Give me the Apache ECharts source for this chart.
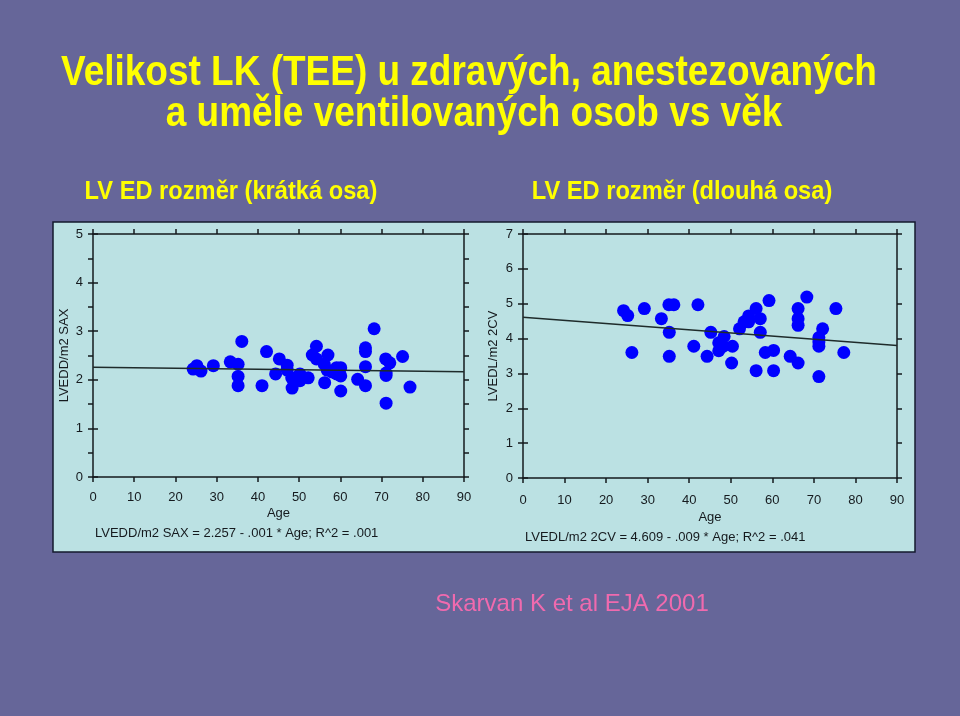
<!DOCTYPE html>
<html>
<head>
<meta charset="utf-8">
<script src="https://cdn.jsdelivr.net/npm/echarts@6/dist/echarts.min.js"></script>
<style>
  html, body { margin: 0; padding: 0; background: #666699; }
  #main { width: 960px; height: 716px; }
</style>
</head>
<body>
<div id="main"></div>
<script>
    // vek (x) a hodnoty
    var saxAge = [24.3, 25.2, 26.2, 29.2, 33.3, 35.2, 36.1, 35.2, 35.2, 41.0, 42.1, 44.3, 45.2, 47.1, 47.1,
        48.2, 48.3, 50.2, 50.2, 52.2, 53.2, 54.2, 54.2, 56.1, 57.0, 56.8, 56.2, 58.0, 59.1, 60.1,
        59.1, 60.1, 60.1, 64.2, 66.1, 66.1, 66.1, 66.1, 68.2, 71.0, 72.0, 71.1, 71.1, 71.1, 75.1, 76.9];
    var saxVal = [2.22, 2.29, 2.18, 2.29, 2.37, 2.32, 2.79, 2.07, 1.88, 1.88, 2.58, 2.12, 2.43, 2.30, 2.20,
        2.04, 1.83, 2.12, 1.98, 2.04, 2.51, 2.69, 2.43, 2.32, 2.51, 2.20, 1.94, 2.16, 2.25, 2.25,
        2.12, 2.08, 1.77, 2.01, 2.66, 2.58, 2.27, 1.88, 3.05, 2.43, 2.35, 2.14, 2.09, 1.52, 2.48, 1.85];
    var saxFit = [[0, 2.257], [90, 2.167]];

    var cvAge = [24.2, 25.2, 26.2, 29.2, 33.3, 35.1, 36.3, 35.2, 35.2, 42.1, 41.1, 44.3, 45.2, 47.1, 48.4,
        47.1, 48.2, 50.4, 50.2, 52.1, 53.2, 54.3, 54.3, 56.1, 57.1, 57.1, 56.1, 59.2, 58.3, 60.3,
        60.3, 64.3, 66.2, 66.2, 66.2, 66.2, 68.3, 71.2, 71.2, 71.2, 72.1, 71.2, 75.3, 77.2];
    var cvVal = [4.80, 4.66, 3.60, 4.86, 4.57, 4.97, 4.97, 4.18, 3.49, 4.97, 3.78, 3.49, 4.18, 3.88, 4.06,
        3.65, 3.78, 3.78, 3.30, 4.28, 4.48, 4.65, 4.48, 4.86, 4.57, 4.18, 3.08, 5.09, 3.60, 3.66,
        3.08, 3.49, 4.86, 4.57, 4.38, 3.30, 5.19, 4.03, 3.90, 3.78, 4.28, 2.91, 4.86, 3.60];
    var cvFit = [[0, 4.609], [90, 3.799]];

    var ageTicks = [0, 90, 10];   // min, max, krok
    var saxTicks = [0, 5, 1];
    var cvTicks = [0, 7, 1];

    var FONT = '"Liberation Sans", Arial, sans-serif';
    var INK = '#151a1e';

    function pairs(xs, ys) {
        var out = [];
        for (var i = 0; i < xs.length; i++) out.push([xs[i], ys[i]]);
        return out;
    }

    // zuzeny tucny text (Arial Narrow neni k dispozici)
    function narrowText(x, y, text, size, sx) {
        return { type: 'text', x: x, y: y, scaleX: sx, style: { text: text, fill: '#ffff00',
            font: 'bold ' + size + 'px ' + FONT, textAlign: 'center', textVerticalAlign: 'middle' } };
    }

    var lineStyle = { color: INK, width: 1.5 };

    function xAxis(grid, pos, labels, nameGap, margin) {
        return {
            type: 'value', gridIndex: grid, position: pos,
            min: ageTicks[0], max: ageTicks[1], interval: ageTicks[2],
            name: labels ? 'Age' : '', nameLocation: 'middle', nameGap: nameGap,
            nameTextStyle: { fontFamily: FONT, fontSize: 13, color: INK },
            axisLine: { show: true, onZero: false, lineStyle: lineStyle },
            axisTick: { show: true, length: 5, lineStyle: lineStyle },
            axisLabel: { show: labels, fontFamily: FONT, fontSize: 13, color: INK, margin: margin || 13 },
            splitLine: { show: false }
        };
    }

    function yAxis(grid, pos, ticks, opt) {
        return {
            type: 'value', gridIndex: grid, position: pos,
            min: ticks[0], max: ticks[1], interval: opt.interval || ticks[2],
            name: opt.name || '', nameLocation: 'middle', nameGap: opt.nameGap || 0,
            nameTextStyle: { fontFamily: FONT, fontSize: 13, color: INK },
            axisLine: { show: opt.line !== false, onZero: false, lineStyle: lineStyle },
            axisTick: { show: true, inside: !!opt.inside, length: 5, lineStyle: lineStyle },
            minorTick: { show: !!opt.minor, splitNumber: 2, length: 5, lineStyle: lineStyle },
            axisLabel: { show: !!opt.labels, fontFamily: FONT, fontSize: 13, color: INK, margin: 10 },
            splitLine: { show: false }
        };
    }

    var myChart = echarts.init(document.getElementById('main'), null, { renderer: 'canvas' });

    var option = {
        backgroundColor: '#666699',
        animation: false,
        graphic: [
            { type: 'rect', z: -10, shape: { x: 53, y: 222, width: 862, height: 330 },
              style: { fill: '#bbe1e3', stroke: '#141a2e', lineWidth: 1.5 } },
            narrowText(469, 73, 'Velikost LK (TEE) u zdravých, anestezovaných', 43, 0.86),
            narrowText(474, 114, 'a uměle ventilovaných osob vs věk', 43, 0.86),
            narrowText(231, 192, 'LV ED rozměr (krátká osa)', 26, 0.91),
            narrowText(682, 192, 'LV ED rozměr (dlouhá osa)', 26, 0.91),
            { type: 'text', x: 95, y: 533, style: { text: 'LVEDD/m2 SAX = 2.257 - .001 * Age; R^2 = .001',
              fill: INK, font: '13px ' + FONT, textAlign: 'left', textVerticalAlign: 'middle' } },
            { type: 'text', x: 525, y: 537, style: { text: 'LVEDL/m2 2CV = 4.609 - .009 * Age; R^2 = .041',
              fill: INK, font: '13px ' + FONT, textAlign: 'left', textVerticalAlign: 'middle' } },
            { type: 'text', x: 572, y: 604, style: { text: 'Skarvan K et al EJA 2001',
              fill: '#f06aae', font: '24px ' + FONT, textAlign: 'center', textVerticalAlign: 'middle' } }
        ],
        grid: [
            { left: 93, right: 496, top: 234, bottom: 239, containLabel: false },
            { left: 523, right: 63, top: 234, bottom: 238, containLabel: false }
        ],
        xAxis: [
            xAxis(0, 'bottom', true, 30, 14),
            xAxis(0, 'top', false, 0),
            xAxis(1, 'bottom', true, 33, 16),
            xAxis(1, 'top', false, 0)
        ],
        yAxis: [
            yAxis(0, 'left', saxTicks, { labels: true, minor: true, name: 'LVEDD/m2 SAX', nameGap: 22 }),
            yAxis(0, 'left', saxTicks, { inside: true, line: false }),
            yAxis(0, 'right', saxTicks, { interval: 0.5 }),
            yAxis(1, 'left', cvTicks, { labels: true, name: 'LVEDL/m2 2CV', nameGap: 23 }),
            yAxis(1, 'left', cvTicks, { inside: true, line: false }),
            yAxis(1, 'right', cvTicks, {})
        ],
        series: [
            { type: 'scatter', xAxisIndex: 0, yAxisIndex: 0, data: pairs(saxAge, saxVal),
              symbolSize: 13, itemStyle: { color: '#0000ff', opacity: 1 } },
            { type: 'line', xAxisIndex: 0, yAxisIndex: 0, data: saxFit, showSymbol: false,
              lineStyle: { color: '#1e2b2b', width: 1.5 } },
            { type: 'scatter', xAxisIndex: 2, yAxisIndex: 3, data: pairs(cvAge, cvVal),
              symbolSize: 13, itemStyle: { color: '#0000ff', opacity: 1 } },
            { type: 'line', xAxisIndex: 2, yAxisIndex: 3, data: cvFit, showSymbol: false,
              lineStyle: { color: '#1e2b2b', width: 1.5 } }
        ]
    };

    myChart.setOption(option, true);
</script>
</body>
</html>
